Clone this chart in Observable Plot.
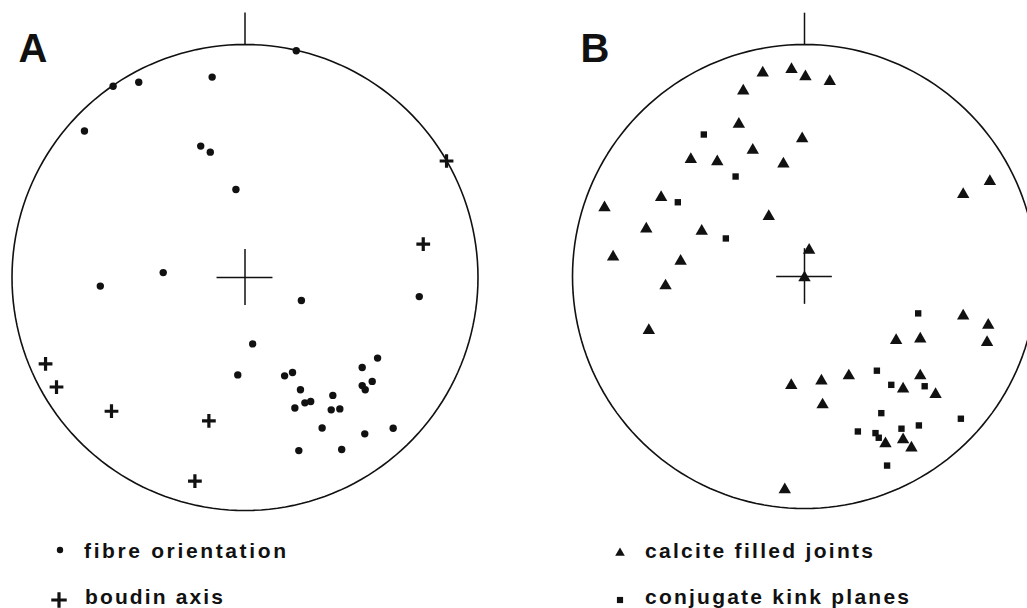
<!DOCTYPE html>
<html>
<head>
<meta charset="utf-8">
<script src="https://cdn.jsdelivr.net/npm/d3@7"></script>
<script src="https://cdn.jsdelivr.net/npm/@observablehq/plot@0.6"></script>
<style>
html, body { margin: 0; padding: 0; background: #fff; }
#wrap { width: 1027px; height: 608px; position: relative; overflow: hidden; background: #fff; }
#panels { display: flex; }
#panels svg, #legend svg { display: block; }
</style>
</head>
<body>
<div id="wrap"><div id="panels"></div><div id="legend"></div></div>
<script>
// Stereonet positions, in % of the primitive-circle radius (x → east, y → north)
// Diagram A
const fibreX  = [22.0, -56.6, -45.6, -14.1, -68.9, -19.0, -14.9, -3.9, -35.1, -62.1, 74.8, 24.2, 3.3, -3.1, 17.0, 20.4, 23.8, 21.4, 25.7, 28.2, 37.7, 37.0, 40.7, 33.1, 23.1, 41.5, 51.4, 63.6, 50.3, 56.9, 54.6, 50.3, 51.6];
const fibreY  = [97.3, 82.1, 83.8, 86.0, 62.9, 56.4, 53.8, 37.8, 2.1, -3.7, -8.2, -9.9, -28.5, -41.8, -42.2, -40.8, -48.2, -56.0, -53.8, -53.2, -50.6, -56.8, -56.4, -64.6, -74.3, -73.8, -67.1, -64.7, -38.6, -34.6, -44.6, -46.4, -48.2];
const boudinX = [86.5, 76.5, -85.6, -80.9, -57.3, -15.5, -21.5];
const boudinY = [50.0, 14.3, -37.1, -47.0, -57.4, -61.5, -87.4];
// Diagram B
const calciteX = [-18.0, -5.6, 0.4, 10.9, -26.4, -28.3, -1.0, -22.3, -49.0, -37.6, -9.1, 68.4, 79.9, -61.8, -86.2, -15.4, -68.2, -44.3, -82.5, -53.4, 2.0, 0.0, -59.9, -67.1, 68.4, 79.2, 78.7, 39.5, 49.9, 19.1, 7.3, -5.7, 7.8, 49.9, 42.5, 56.5, 34.9, 42.5, 46.1, -8.5];
const calciteY = [87.8, 89.3, 86.1, 84.1, 80.0, 65.7, 59.4, 54.5, 50.5, 49.5, 48.5, 35.4, 41.0, 34.1, 29.7, 25.9, 20.5, 19.5, 8.4, 6.6, 11.4, -0.5, -4.0, -23.2, -17.0, -21.0, -28.4, -27.5, -26.9, -42.8, -45.0, -46.9, -55.3, -42.8, -48.5, -50.8, -72.1, -70.3, -73.9, -91.9];
const kinkX = [-43.4, -29.7, -54.6, -33.9, 49.0, 31.2, 37.4, 51.8, 33.1, 67.4, 49.3, 23.0, 30.6, 32.0, 41.8, 35.6];
const kinkY = [61.2, 43.1, 32.0, 16.4, -15.9, -40.6, -46.7, -47.3, -58.9, -61.3, -64.2, -66.8, -67.5, -69.5, -65.6, -81.5];

const panelLabels  = ["A", "B"];
const legendLabels = ["fibre orientation", "boudin axis", "calcite filled joints", "conjugate kink planes"];

const zip = (xs, ys) => xs.map((x, i) => ({x, y: ys[i]}));
const fibre = zip(fibreX, fibreY);
const boudin = zip(boudinX, boudinY);
const calcite = zip(calciteX, calciteY);
const kink = zip(kinkX, kinkY);

// primitive circle outline (frame geometry)
const rim = d3.range(0, 361, 2).map(a => ({x: 100 * Math.cos(a * Math.PI / 180), y: 100 * Math.sin(a * Math.PI / 180)}));

const INK = "#111";
function panel({label, width, cx, cy, r, labelDx, layers}) {
  return Plot.plot({
    width, height: 530, margin: 0,
    x: {domain: [-100, 100], range: [cx - r, cx + r], axis: null},
    y: {domain: [-100, 100], range: [cy + r, cy - r], axis: null},
    style: {background: "white"},
    marks: [
      Plot.line(rim, {x: "x", y: "y", stroke: INK, strokeWidth: 1.6}),
      Plot.ruleX([0], {y1: 100, y2: 113.5, stroke: INK, strokeWidth: 1.5}),
      Plot.ruleX([0], {y1: -12, y2: 12, stroke: INK, strokeWidth: 1.5}),
      Plot.ruleY([0], {x1: -12, x2: 12, stroke: INK, strokeWidth: 1.5}),
      ...layers,
      Plot.text([label], {text: d => d, frameAnchor: "top-left", dx: labelDx, dy: 33, lineAnchor: "top", textAnchor: "start",
        fontSize: 40, fontWeight: "bold", fontFamily: "Liberation Sans, Arial, sans-serif", fill: INK})
    ]
  });
}

const A = panel({label: panelLabels[0], width: 520, cx: 244.5, cy: 277, r: 233, labelDx: 18, layers: [
  Plot.dot(fibre, {x: "x", y: "y", r: 3.7, fill: INK, stroke: "none"}),
  Plot.dot(boudin, {x: "x", y: "y", symbol: "plus", r: 4.5, stroke: INK, strokeWidth: 3.2})
]});
const B = panel({label: panelLabels[1], width: 507, cx: 284, cy: 276, r: 232, labelDx: 60, layers: [
  Plot.dot(kink, {x: "x", y: "y", symbol: "square", r: 3.6, fill: INK, stroke: "none"}),
  Plot.dot(calcite, {x: "x", y: "y", symbol: "triangle", r: 4.6, fill: INK, stroke: "none"})
]});
document.getElementById("panels").append(A, B);

// legend below the diagrams
const legendLayout = [
  {mx: 60, my: 20, tx: 84, ty: 27.5, len: 202, sym: d3.symbolCircle, size: 32, fill: true},
  {mx: 59, my: 70, tx: 85, ty: 74, len: 138, sym: d3.symbolPlus, size: 80, fill: false},
  {mx: 620, my: 23, tx: 645, ty: 27.5, len: 228, sym: d3.symbolTriangle, size: 40, fill: true},
  {mx: 620, my: 70, tx: 645, ty: 73.5, len: 264, sym: d3.symbolSquare, size: 38, fill: true}
];
const lsvg = d3.select("#legend").append("svg").attr("width", 1027).attr("height", 78);
legendLabels.forEach((label, i) => {
  const L = legendLayout[i];
  const p = lsvg.append("path")
    .attr("transform", `translate(${L.mx},${L.my})`)
    .attr("d", d3.symbol(L.sym, L.size)());
  if (L.fill) p.attr("fill", INK); else p.attr("fill", "none").attr("stroke", INK).attr("stroke-width", 3.2);
  lsvg.append("text")
    .attr("x", L.tx).attr("y", L.ty)
    .attr("textLength", L.len).attr("lengthAdjust", "spacing")
    .attr("font-family", "Liberation Sans, Arial, sans-serif")
    .attr("font-weight", "bold").attr("font-size", 21).attr("fill", INK)
    .text(label);
});
</script>
</body>
</html>
